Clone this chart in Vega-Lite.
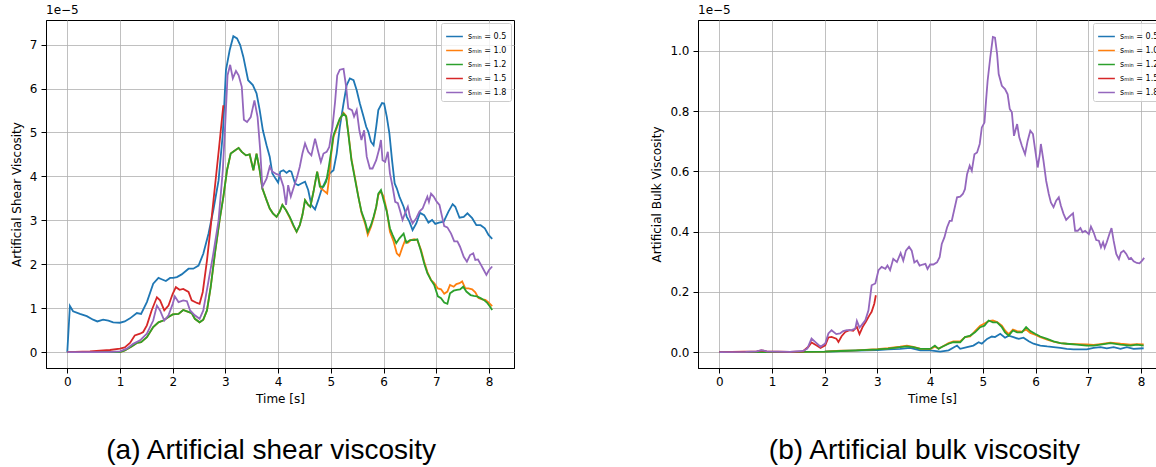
{
"$schema": "https://vega.github.io/schema/vega-lite/v6.json",
"padding": {"left": 9, "top": 3, "right": 0, "bottom": 0},
"config": {
 "font": "DejaVu Sans",
 "view": {"stroke": "black", "strokeWidth": 1},
 "axis": {"grid": true, "gridColor": "#b0b0b0", "gridWidth": 0.8, "domainColor": "black", "tickColor": "black", "tickSize": 5, "labelFontSize": 12, "titleFontSize": 12, "labelColor": "black", "titleColor": "black", "titleFontWeight": "normal", "labelFont": "DejaVu Sans", "titleFont": "DejaVu Sans"},
 "legend": {"orient": "top-right", "offset": 3, "fillColor": "rgba(255,255,255,0.8)", "strokeColor": "#cccccc", "cornerRadius": 2, "padding": 4, "labelFontSize": 8, "labelFont": "DejaVu Sans", "labelColor": "black", "symbolType": "stroke", "symbolSize": 280, "symbolStrokeWidth": 1.5, "rowPadding": -8, "labelOffset": 4}
},
"datasets": {
"shear": [
{"smin":"0.5","t":0,"v":0},{"smin":"0.5","t":0.05,"v":1.05},{"smin":"0.5","t":0.11,"v":0.93},{"smin":"0.5","t":0.24,"v":0.87},{"smin":"0.5","t":0.37,"v":0.82},{"smin":"0.5","t":0.49,"v":0.74},{"smin":"0.5","t":0.57,"v":0.70},{"smin":"0.5","t":0.68,"v":0.74},{"smin":"0.5","t":0.78,"v":0.72},{"smin":"0.5","t":0.87,"v":0.68},{"smin":"0.5","t":1.0,"v":0.67},{"smin":"0.5","t":1.09,"v":0.70},{"smin":"0.5","t":1.19,"v":0.77},{"smin":"0.5","t":1.32,"v":0.89},{"smin":"0.5","t":1.40,"v":0.87},{"smin":"0.5","t":1.51,"v":1.14},{"smin":"0.5","t":1.63,"v":1.56},{"smin":"0.5","t":1.73,"v":1.69},{"smin":"0.5","t":1.79,"v":1.66},{"smin":"0.5","t":1.87,"v":1.62},{"smin":"0.5","t":1.95,"v":1.69},{"smin":"0.5","t":2.01,"v":1.69},{"smin":"0.5","t":2.08,"v":1.71},{"smin":"0.5","t":2.17,"v":1.77},{"smin":"0.5","t":2.30,"v":1.90},{"smin":"0.5","t":2.39,"v":1.90},{"smin":"0.5","t":2.49,"v":1.97},{"smin":"0.5","t":2.58,"v":2.24},{"smin":"0.5","t":2.68,"v":2.70},{"smin":"0.5","t":2.77,"v":3.23},{"smin":"0.5","t":2.87,"v":3.91},{"smin":"0.5","t":2.95,"v":4.97},{"smin":"0.5","t":3.01,"v":6.42},{"smin":"0.5","t":3.08,"v":6.87},{"smin":"0.5","t":3.15,"v":7.19},{"smin":"0.5","t":3.22,"v":7.14},{"smin":"0.5","t":3.28,"v":6.99},{"smin":"0.5","t":3.34,"v":6.72},{"smin":"0.5","t":3.43,"v":6.19},{"smin":"0.5","t":3.52,"v":6.08},{"smin":"0.5","t":3.59,"v":5.89},{"smin":"0.5","t":3.65,"v":5.51},{"smin":"0.5","t":3.71,"v":5.05},{"smin":"0.5","t":3.78,"v":4.71},{"smin":"0.5","t":3.84,"v":4.45},{"smin":"0.5","t":3.89,"v":4.07},{"smin":"0.5","t":3.95,"v":3.95},{"smin":"0.5","t":4.0,"v":3.86},{"smin":"0.5","t":4.04,"v":4.11},{"smin":"0.5","t":4.10,"v":4.14},{"smin":"0.5","t":4.16,"v":4.08},{"smin":"0.5","t":4.21,"v":4.13},{"smin":"0.5","t":4.25,"v":4.11},{"smin":"0.5","t":4.32,"v":3.84},{"smin":"0.5","t":4.38,"v":3.80},{"smin":"0.5","t":4.44,"v":3.84},{"smin":"0.5","t":4.51,"v":3.88},{"smin":"0.5","t":4.57,"v":3.69},{"smin":"0.5","t":4.63,"v":3.35},{"smin":"0.5","t":4.70,"v":3.25},{"smin":"0.5","t":4.76,"v":3.46},{"smin":"0.5","t":4.82,"v":3.69},{"smin":"0.5","t":4.91,"v":3.92},{"smin":"0.5","t":4.98,"v":4.07},{"smin":"0.5","t":5.05,"v":4.14},{"smin":"0.5","t":5.11,"v":4.52},{"smin":"0.5","t":5.17,"v":5.13},{"smin":"0.5","t":5.24,"v":5.66},{"smin":"0.5","t":5.30,"v":6.08},{"smin":"0.5","t":5.36,"v":6.23},{"smin":"0.5","t":5.43,"v":6.19},{"smin":"0.5","t":5.49,"v":5.96},{"smin":"0.5","t":5.55,"v":5.66},{"smin":"0.5","t":5.62,"v":5.36},{"smin":"0.5","t":5.67,"v":5.13},{"smin":"0.5","t":5.71,"v":5.02},{"smin":"0.5","t":5.76,"v":4.79},{"smin":"0.5","t":5.81,"v":4.71},{"smin":"0.5","t":5.86,"v":5.13},{"smin":"0.5","t":5.90,"v":5.51},{"smin":"0.5","t":5.97,"v":5.67},{"smin":"0.5","t":6.01,"v":5.66},{"smin":"0.5","t":6.06,"v":5.36},{"smin":"0.5","t":6.11,"v":4.98},{"smin":"0.5","t":6.16,"v":4.37},{"smin":"0.5","t":6.21,"v":3.84},{"smin":"0.5","t":6.25,"v":3.73},{"smin":"0.5","t":6.30,"v":3.54},{"smin":"0.5","t":6.38,"v":3.31},{"smin":"0.5","t":6.44,"v":3.08},{"smin":"0.5","t":6.49,"v":2.97},{"smin":"0.5","t":6.55,"v":2.78},{"smin":"0.5","t":6.62,"v":2.93},{"smin":"0.5","t":6.69,"v":3.17},{"smin":"0.5","t":6.77,"v":3.12},{"smin":"0.5","t":6.85,"v":2.95},{"smin":"0.5","t":6.92,"v":3.01},{"smin":"0.5","t":6.98,"v":2.92},{"smin":"0.5","t":7.05,"v":2.95},{"smin":"0.5","t":7.14,"v":2.97},{"smin":"0.5","t":7.23,"v":3.20},{"smin":"0.5","t":7.31,"v":3.37},{"smin":"0.5","t":7.36,"v":3.31},{"smin":"0.5","t":7.44,"v":3.06},{"smin":"0.5","t":7.52,"v":3.08},{"smin":"0.5","t":7.59,"v":3.16},{"smin":"0.5","t":7.68,"v":3.05},{"smin":"0.5","t":7.76,"v":2.89},{"smin":"0.5","t":7.84,"v":2.89},{"smin":"0.5","t":7.92,"v":2.82},{"smin":"0.5","t":7.99,"v":2.67},{"smin":"0.5","t":8.06,"v":2.58},
{"smin":"1.0","t":0,"v":0},{"smin":"1.0","t":1.0,"v":0},{"smin":"1.0","t":1.09,"v":0.04},{"smin":"1.0","t":1.22,"v":0.13},{"smin":"1.0","t":1.32,"v":0.21},{"smin":"1.0","t":1.40,"v":0.23},{"smin":"1.0","t":1.51,"v":0.34},{"smin":"1.0","t":1.63,"v":0.57},{"smin":"1.0","t":1.73,"v":0.68},{"smin":"1.0","t":1.82,"v":0.72},{"smin":"1.0","t":1.92,"v":0.80},{"smin":"1.0","t":2.0,"v":0.86},{"smin":"1.0","t":2.11,"v":0.87},{"smin":"1.0","t":2.20,"v":0.96},{"smin":"1.0","t":2.27,"v":0.93},{"smin":"1.0","t":2.36,"v":0.89},{"smin":"1.0","t":2.42,"v":0.76},{"smin":"1.0","t":2.51,"v":0.68},{"smin":"1.0","t":2.58,"v":0.74},{"smin":"1.0","t":2.65,"v":0.95},{"smin":"1.0","t":2.72,"v":1.48},{"smin":"1.0","t":2.80,"v":2.24},{"smin":"1.0","t":2.89,"v":3.01},{"smin":"1.0","t":2.96,"v":3.53},{"smin":"1.0","t":3.03,"v":4.14},{"smin":"1.0","t":3.10,"v":4.52},{"smin":"1.0","t":3.18,"v":4.59},{"smin":"1.0","t":3.25,"v":4.65},{"smin":"1.0","t":3.31,"v":4.56},{"smin":"1.0","t":3.39,"v":4.48},{"smin":"1.0","t":3.46,"v":4.50},{"smin":"1.0","t":3.53,"v":4.14},{"smin":"1.0","t":3.59,"v":4.52},{"smin":"1.0","t":3.65,"v":4.14},{"smin":"1.0","t":3.70,"v":3.73},{"smin":"1.0","t":3.78,"v":3.46},{"smin":"1.0","t":3.84,"v":3.27},{"smin":"1.0","t":3.90,"v":3.16},{"smin":"1.0","t":3.97,"v":3.08},{"smin":"1.0","t":4.03,"v":3.20},{"smin":"1.0","t":4.08,"v":3.35},{"smin":"1.0","t":4.15,"v":3.23},{"smin":"1.0","t":4.22,"v":3.06},{"smin":"1.0","t":4.29,"v":2.87},{"smin":"1.0","t":4.35,"v":2.74},{"smin":"1.0","t":4.41,"v":2.89},{"smin":"1.0","t":4.46,"v":3.12},{"smin":"1.0","t":4.51,"v":3.46},{"smin":"1.0","t":4.57,"v":3.35},{"smin":"1.0","t":4.61,"v":3.31},{"smin":"1.0","t":4.67,"v":3.65},{"smin":"1.0","t":4.74,"v":4.11},{"smin":"1.0","t":4.81,"v":3.73},{"smin":"1.0","t":4.87,"v":3.67},{"smin":"1.0","t":4.93,"v":3.61},{"smin":"1.0","t":4.97,"v":4.0},{"smin":"1.0","t":5.0,"v":4.45},{"smin":"1.0","t":5.05,"v":4.90},{"smin":"1.0","t":5.11,"v":5.10},{"smin":"1.0","t":5.17,"v":5.30},{"smin":"1.0","t":5.24,"v":5.45},{"smin":"1.0","t":5.29,"v":5.38},{"smin":"1.0","t":5.33,"v":5.0},{"smin":"1.0","t":5.39,"v":4.40},{"smin":"1.0","t":5.46,"v":3.95},{"smin":"1.0","t":5.52,"v":3.55},{"smin":"1.0","t":5.58,"v":3.18},{"smin":"1.0","t":5.65,"v":2.92},{"smin":"1.0","t":5.70,"v":2.67},{"smin":"1.0","t":5.76,"v":2.85},{"smin":"1.0","t":5.81,"v":3.05},{"smin":"1.0","t":5.86,"v":3.30},{"smin":"1.0","t":5.90,"v":3.58},{"smin":"1.0","t":5.95,"v":3.66},{"smin":"1.0","t":6.0,"v":3.54},{"smin":"1.0","t":6.06,"v":3.23},{"smin":"1.0","t":6.12,"v":2.74},{"smin":"1.0","t":6.19,"v":2.52},{"smin":"1.0","t":6.25,"v":2.25},{"smin":"1.0","t":6.30,"v":2.19},{"smin":"1.0","t":6.36,"v":2.40},{"smin":"1.0","t":6.41,"v":2.55},{"smin":"1.0","t":6.46,"v":2.49},{"smin":"1.0","t":6.52,"v":2.55},{"smin":"1.0","t":6.58,"v":2.57},{"smin":"1.0","t":6.64,"v":2.55},{"smin":"1.0","t":6.71,"v":2.33},{"smin":"1.0","t":6.77,"v":2.06},{"smin":"1.0","t":6.83,"v":1.83},{"smin":"1.0","t":6.90,"v":1.64},{"smin":"1.0","t":6.96,"v":1.57},{"smin":"1.0","t":7.03,"v":1.45},{"smin":"1.0","t":7.09,"v":1.43},{"smin":"1.0","t":7.15,"v":1.33},{"smin":"1.0","t":7.21,"v":1.38},{"smin":"1.0","t":7.26,"v":1.53},{"smin":"1.0","t":7.33,"v":1.49},{"smin":"1.0","t":7.38,"v":1.55},{"smin":"1.0","t":7.44,"v":1.57},{"smin":"1.0","t":7.49,"v":1.61},{"smin":"1.0","t":7.55,"v":1.45},{"smin":"1.0","t":7.61,"v":1.45},{"smin":"1.0","t":7.68,"v":1.43},{"smin":"1.0","t":7.74,"v":1.36},{"smin":"1.0","t":7.80,"v":1.23},{"smin":"1.0","t":7.87,"v":1.20},{"smin":"1.0","t":7.93,"v":1.19},{"smin":"1.0","t":7.99,"v":1.13},{"smin":"1.0","t":8.06,"v":1.05},
{"smin":"1.2","t":0,"v":0},{"smin":"1.2","t":1.0,"v":0},{"smin":"1.2","t":1.09,"v":0.04},{"smin":"1.2","t":1.22,"v":0.13},{"smin":"1.2","t":1.32,"v":0.21},{"smin":"1.2","t":1.40,"v":0.23},{"smin":"1.2","t":1.51,"v":0.34},{"smin":"1.2","t":1.63,"v":0.57},{"smin":"1.2","t":1.73,"v":0.68},{"smin":"1.2","t":1.82,"v":0.72},{"smin":"1.2","t":1.92,"v":0.80},{"smin":"1.2","t":2.0,"v":0.86},{"smin":"1.2","t":2.11,"v":0.87},{"smin":"1.2","t":2.20,"v":0.96},{"smin":"1.2","t":2.27,"v":0.93},{"smin":"1.2","t":2.36,"v":0.89},{"smin":"1.2","t":2.42,"v":0.76},{"smin":"1.2","t":2.51,"v":0.68},{"smin":"1.2","t":2.58,"v":0.74},{"smin":"1.2","t":2.65,"v":0.95},{"smin":"1.2","t":2.72,"v":1.48},{"smin":"1.2","t":2.80,"v":2.24},{"smin":"1.2","t":2.89,"v":3.01},{"smin":"1.2","t":2.96,"v":3.53},{"smin":"1.2","t":3.03,"v":4.14},{"smin":"1.2","t":3.10,"v":4.52},{"smin":"1.2","t":3.18,"v":4.59},{"smin":"1.2","t":3.25,"v":4.65},{"smin":"1.2","t":3.31,"v":4.56},{"smin":"1.2","t":3.39,"v":4.48},{"smin":"1.2","t":3.46,"v":4.50},{"smin":"1.2","t":3.53,"v":4.14},{"smin":"1.2","t":3.59,"v":4.52},{"smin":"1.2","t":3.65,"v":4.14},{"smin":"1.2","t":3.70,"v":3.73},{"smin":"1.2","t":3.78,"v":3.46},{"smin":"1.2","t":3.84,"v":3.27},{"smin":"1.2","t":3.90,"v":3.16},{"smin":"1.2","t":3.97,"v":3.08},{"smin":"1.2","t":4.03,"v":3.20},{"smin":"1.2","t":4.08,"v":3.35},{"smin":"1.2","t":4.15,"v":3.23},{"smin":"1.2","t":4.22,"v":3.08},{"smin":"1.2","t":4.29,"v":2.89},{"smin":"1.2","t":4.35,"v":2.74},{"smin":"1.2","t":4.41,"v":2.89},{"smin":"1.2","t":4.46,"v":3.12},{"smin":"1.2","t":4.51,"v":3.46},{"smin":"1.2","t":4.57,"v":3.35},{"smin":"1.2","t":4.61,"v":3.31},{"smin":"1.2","t":4.67,"v":3.65},{"smin":"1.2","t":4.74,"v":4.11},{"smin":"1.2","t":4.79,"v":3.77},{"smin":"1.2","t":4.86,"v":3.77},{"smin":"1.2","t":4.91,"v":3.88},{"smin":"1.2","t":4.95,"v":4.14},{"smin":"1.2","t":5.0,"v":4.52},{"smin":"1.2","t":5.05,"v":4.94},{"smin":"1.2","t":5.11,"v":5.13},{"smin":"1.2","t":5.17,"v":5.32},{"smin":"1.2","t":5.24,"v":5.43},{"smin":"1.2","t":5.29,"v":5.36},{"smin":"1.2","t":5.33,"v":4.98},{"smin":"1.2","t":5.39,"v":4.37},{"smin":"1.2","t":5.46,"v":3.92},{"smin":"1.2","t":5.52,"v":3.54},{"smin":"1.2","t":5.58,"v":3.20},{"smin":"1.2","t":5.65,"v":2.97},{"smin":"1.2","t":5.70,"v":2.74},{"smin":"1.2","t":5.76,"v":2.89},{"smin":"1.2","t":5.81,"v":3.08},{"smin":"1.2","t":5.86,"v":3.31},{"smin":"1.2","t":5.90,"v":3.61},{"smin":"1.2","t":5.95,"v":3.69},{"smin":"1.2","t":6.0,"v":3.46},{"smin":"1.2","t":6.06,"v":3.20},{"smin":"1.2","t":6.12,"v":2.82},{"smin":"1.2","t":6.17,"v":2.67},{"smin":"1.2","t":6.24,"v":2.48},{"smin":"1.2","t":6.30,"v":2.59},{"smin":"1.2","t":6.38,"v":2.70},{"smin":"1.2","t":6.43,"v":2.49},{"smin":"1.2","t":6.50,"v":2.55},{"smin":"1.2","t":6.58,"v":2.55},{"smin":"1.2","t":6.64,"v":2.57},{"smin":"1.2","t":6.71,"v":2.29},{"smin":"1.2","t":6.77,"v":2.02},{"smin":"1.2","t":6.83,"v":1.80},{"smin":"1.2","t":6.90,"v":1.64},{"smin":"1.2","t":6.96,"v":1.53},{"smin":"1.2","t":7.03,"v":1.27},{"smin":"1.2","t":7.09,"v":1.23},{"smin":"1.2","t":7.15,"v":1.13},{"smin":"1.2","t":7.21,"v":1.10},{"smin":"1.2","t":7.26,"v":1.34},{"smin":"1.2","t":7.33,"v":1.40},{"smin":"1.2","t":7.39,"v":1.42},{"smin":"1.2","t":7.45,"v":1.43},{"smin":"1.2","t":7.51,"v":1.49},{"smin":"1.2","t":7.57,"v":1.38},{"smin":"1.2","t":7.65,"v":1.30},{"smin":"1.2","t":7.71,"v":1.28},{"smin":"1.2","t":7.77,"v":1.27},{"smin":"1.2","t":7.84,"v":1.23},{"smin":"1.2","t":7.90,"v":1.19},{"smin":"1.2","t":7.96,"v":1.13},{"smin":"1.2","t":8.01,"v":1.05},{"smin":"1.2","t":8.06,"v":0.96},
{"smin":"1.5","t":0,"v":0},{"smin":"1.5","t":0.43,"v":0.02},{"smin":"1.5","t":0.68,"v":0.04},{"smin":"1.5","t":0.81,"v":0.05},{"smin":"1.5","t":1.0,"v":0.08},{"smin":"1.5","t":1.09,"v":0.11},{"smin":"1.5","t":1.19,"v":0.21},{"smin":"1.5","t":1.28,"v":0.38},{"smin":"1.5","t":1.38,"v":0.42},{"smin":"1.5","t":1.44,"v":0.46},{"smin":"1.5","t":1.51,"v":0.61},{"smin":"1.5","t":1.60,"v":0.95},{"smin":"1.5","t":1.70,"v":1.25},{"smin":"1.5","t":1.76,"v":1.18},{"smin":"1.5","t":1.84,"v":0.95},{"smin":"1.5","t":1.92,"v":1.06},{"smin":"1.5","t":2.0,"v":1.33},{"smin":"1.5","t":2.06,"v":1.48},{"smin":"1.5","t":2.13,"v":1.42},{"smin":"1.5","t":2.20,"v":1.44},{"smin":"1.5","t":2.30,"v":1.37},{"smin":"1.5","t":2.36,"v":1.18},{"smin":"1.5","t":2.46,"v":1.12},{"smin":"1.5","t":2.51,"v":1.10},{"smin":"1.5","t":2.57,"v":1.37},{"smin":"1.5","t":2.65,"v":2.09},{"smin":"1.5","t":2.72,"v":2.85},{"smin":"1.5","t":2.80,"v":3.76},{"smin":"1.5","t":2.88,"v":4.67},{"smin":"1.5","t":2.96,"v":5.62},
{"smin":"1.8","t":0,"v":0},{"smin":"1.8","t":0.75,"v":0},{"smin":"1.8","t":1.0,"v":0.02},{"smin":"1.8","t":1.13,"v":0.08},{"smin":"1.8","t":1.25,"v":0.19},{"smin":"1.8","t":1.38,"v":0.27},{"smin":"1.8","t":1.51,"v":0.42},{"smin":"1.8","t":1.63,"v":0.72},{"smin":"1.8","t":1.70,"v":1.06},{"smin":"1.8","t":1.76,"v":0.95},{"smin":"1.8","t":1.84,"v":0.72},{"smin":"1.8","t":1.92,"v":0.84},{"smin":"1.8","t":2.0,"v":1.10},{"smin":"1.8","t":2.04,"v":1.27},{"smin":"1.8","t":2.11,"v":1.14},{"smin":"1.8","t":2.20,"v":1.18},{"smin":"1.8","t":2.27,"v":1.16},{"smin":"1.8","t":2.33,"v":0.95},{"smin":"1.8","t":2.42,"v":0.84},{"smin":"1.8","t":2.51,"v":0.76},{"smin":"1.8","t":2.58,"v":0.95},{"smin":"1.8","t":2.68,"v":1.63},{"smin":"1.8","t":2.77,"v":2.24},{"smin":"1.8","t":2.87,"v":3.0},{"smin":"1.8","t":2.95,"v":4.14},{"smin":"1.8","t":3.0,"v":5.29},{"smin":"1.8","t":3.04,"v":6.30},{"smin":"1.8","t":3.09,"v":6.54},{"smin":"1.8","t":3.14,"v":6.23},{"smin":"1.8","t":3.20,"v":6.40},{"smin":"1.8","t":3.25,"v":6.30},{"smin":"1.8","t":3.31,"v":6.04},{"smin":"1.8","t":3.35,"v":5.29},{"smin":"1.8","t":3.41,"v":5.24},{"smin":"1.8","t":3.48,"v":5.35},{"smin":"1.8","t":3.55,"v":5.73},{"smin":"1.8","t":3.61,"v":5.35},{"smin":"1.8","t":3.66,"v":4.59},{"smin":"1.8","t":3.70,"v":3.76},{"smin":"1.8","t":3.78,"v":3.95},{"smin":"1.8","t":3.84,"v":4.22},{"smin":"1.8","t":3.89,"v":4.11},{"smin":"1.8","t":3.97,"v":4.05},{"smin":"1.8","t":4.03,"v":4.03},{"smin":"1.8","t":4.10,"v":3.77},{"smin":"1.8","t":4.15,"v":3.35},{"smin":"1.8","t":4.19,"v":3.80},{"smin":"1.8","t":4.24,"v":3.54},{"smin":"1.8","t":4.30,"v":3.77},{"smin":"1.8","t":4.36,"v":3.99},{"smin":"1.8","t":4.41,"v":4.22},{"smin":"1.8","t":4.46,"v":4.52},{"smin":"1.8","t":4.51,"v":4.75},{"smin":"1.8","t":4.57,"v":4.56},{"smin":"1.8","t":4.63,"v":4.48},{"smin":"1.8","t":4.70,"v":4.86},{"smin":"1.8","t":4.76,"v":4.56},{"smin":"1.8","t":4.81,"v":4.33},{"smin":"1.8","t":4.86,"v":4.52},{"smin":"1.8","t":4.92,"v":4.56},{"smin":"1.8","t":4.97,"v":4.67},{"smin":"1.8","t":5.03,"v":5.13},{"smin":"1.8","t":5.08,"v":5.70},{"smin":"1.8","t":5.12,"v":6.30},{"smin":"1.8","t":5.17,"v":6.43},{"smin":"1.8","t":5.24,"v":6.45},{"smin":"1.8","t":5.29,"v":6.04},{"smin":"1.8","t":5.33,"v":5.55},{"smin":"1.8","t":5.40,"v":5.51},{"smin":"1.8","t":5.44,"v":5.36},{"smin":"1.8","t":5.49,"v":5.51},{"smin":"1.8","t":5.54,"v":5.05},{"smin":"1.8","t":5.58,"v":4.83},{"smin":"1.8","t":5.63,"v":5.05},{"smin":"1.8","t":5.68,"v":4.45},{"smin":"1.8","t":5.74,"v":4.18},{"smin":"1.8","t":5.79,"v":4.18},{"smin":"1.8","t":5.86,"v":4.37},{"smin":"1.8","t":5.92,"v":4.64},{"smin":"1.8","t":5.95,"v":4.83},{"smin":"1.8","t":5.98,"v":4.37},{"smin":"1.8","t":6.03,"v":4.33},{"smin":"1.8","t":6.08,"v":4.56},{"smin":"1.8","t":6.12,"v":4.07},{"smin":"1.8","t":6.17,"v":3.77},{"smin":"1.8","t":6.22,"v":3.42},{"smin":"1.8","t":6.27,"v":3.39},{"smin":"1.8","t":6.31,"v":3.23},{"smin":"1.8","t":6.36,"v":3.01},{"smin":"1.8","t":6.41,"v":3.17},{"smin":"1.8","t":6.46,"v":3.31},{"smin":"1.8","t":6.50,"v":3.08},{"smin":"1.8","t":6.55,"v":2.93},{"smin":"1.8","t":6.62,"v":3.05},{"smin":"1.8","t":6.68,"v":3.20},{"smin":"1.8","t":6.74,"v":3.27},{"smin":"1.8","t":6.79,"v":3.42},{"smin":"1.8","t":6.83,"v":3.54},{"smin":"1.8","t":6.86,"v":3.42},{"smin":"1.8","t":6.90,"v":3.61},{"smin":"1.8","t":6.95,"v":3.54},{"smin":"1.8","t":7.01,"v":3.42},{"smin":"1.8","t":7.06,"v":3.35},{"smin":"1.8","t":7.11,"v":3.08},{"smin":"1.8","t":7.15,"v":2.87},{"smin":"1.8","t":7.21,"v":2.84},{"smin":"1.8","t":7.28,"v":2.70},{"smin":"1.8","t":7.34,"v":2.52},{"smin":"1.8","t":7.40,"v":2.52},{"smin":"1.8","t":7.45,"v":2.40},{"smin":"1.8","t":7.52,"v":2.17},{"smin":"1.8","t":7.58,"v":2.06},{"smin":"1.8","t":7.64,"v":2.21},{"smin":"1.8","t":7.70,"v":2.25},{"smin":"1.8","t":7.74,"v":2.10},{"smin":"1.8","t":7.79,"v":2.11},{"smin":"1.8","t":7.85,"v":1.98},{"smin":"1.8","t":7.90,"v":1.87},{"smin":"1.8","t":7.95,"v":1.76},{"smin":"1.8","t":8.0,"v":1.87},{"smin":"1.8","t":8.06,"v":1.95}
],
"bulk": [
{"smin":"0.5","t":0,"v":0},{"smin":"0.5","t":1.0,"v":0.0},{"smin":"0.5","t":1.5,"v":0.001},{"smin":"0.5","t":2.0,"v":0.002},{"smin":"0.5","t":2.3,"v":0.004},{"smin":"0.5","t":2.6,"v":0.005},{"smin":"0.5","t":3.0,"v":0.007},{"smin":"0.5","t":3.2,"v":0.009},{"smin":"0.5","t":3.43,"v":0.011},{"smin":"0.5","t":3.62,"v":0.014},{"smin":"0.5","t":3.81,"v":0.006},{"smin":"0.5","t":4.0,"v":0.006},{"smin":"0.5","t":4.19,"v":0.002},{"smin":"0.5","t":4.35,"v":0.006},{"smin":"0.5","t":4.51,"v":0.022},{"smin":"0.5","t":4.57,"v":0.011},{"smin":"0.5","t":4.70,"v":0.017},{"smin":"0.5","t":4.82,"v":0.022},{"smin":"0.5","t":4.92,"v":0.033},{"smin":"0.5","t":4.98,"v":0.028},{"smin":"0.5","t":5.08,"v":0.044},{"smin":"0.5","t":5.17,"v":0.052},{"smin":"0.5","t":5.23,"v":0.050},{"smin":"0.5","t":5.33,"v":0.061},{"smin":"0.5","t":5.42,"v":0.048},{"smin":"0.5","t":5.49,"v":0.055},{"smin":"0.5","t":5.58,"v":0.050},{"smin":"0.5","t":5.68,"v":0.044},{"smin":"0.5","t":5.77,"v":0.048},{"smin":"0.5","t":5.87,"v":0.036},{"smin":"0.5","t":5.96,"v":0.028},{"smin":"0.5","t":6.09,"v":0.022},{"smin":"0.5","t":6.22,"v":0.019},{"smin":"0.5","t":6.34,"v":0.017},{"smin":"0.5","t":6.47,"v":0.014},{"smin":"0.5","t":6.59,"v":0.011},{"smin":"0.5","t":6.72,"v":0.009},{"smin":"0.5","t":6.97,"v":0.009},{"smin":"0.5","t":7.10,"v":0.014},{"smin":"0.5","t":7.23,"v":0.017},{"smin":"0.5","t":7.35,"v":0.013},{"smin":"0.5","t":7.48,"v":0.017},{"smin":"0.5","t":7.61,"v":0.011},{"smin":"0.5","t":7.73,"v":0.017},{"smin":"0.5","t":7.86,"v":0.011},{"smin":"0.5","t":8.05,"v":0.013},
{"smin":"1.0","t":0,"v":0},{"smin":"1.0","t":1.0,"v":0.0},{"smin":"1.0","t":1.5,"v":0.001},{"smin":"1.0","t":2.0,"v":0.002},{"smin":"1.0","t":2.3,"v":0.005},{"smin":"1.0","t":2.6,"v":0.006},{"smin":"1.0","t":3.0,"v":0.010},{"smin":"1.0","t":3.2,"v":0.013},{"smin":"1.0","t":3.43,"v":0.018},{"smin":"1.0","t":3.56,"v":0.022},{"smin":"1.0","t":3.68,"v":0.018},{"smin":"1.0","t":3.81,"v":0.012},{"smin":"1.0","t":4.0,"v":0.010},{"smin":"1.0","t":4.09,"v":0.018},{"smin":"1.0","t":4.16,"v":0.012},{"smin":"1.0","t":4.22,"v":0.017},{"smin":"1.0","t":4.35,"v":0.030},{"smin":"1.0","t":4.44,"v":0.036},{"smin":"1.0","t":4.57,"v":0.036},{"smin":"1.0","t":4.66,"v":0.050},{"smin":"1.0","t":4.76,"v":0.052},{"smin":"1.0","t":4.85,"v":0.070},{"smin":"1.0","t":4.95,"v":0.088},{"smin":"1.0","t":5.03,"v":0.095},{"smin":"1.0","t":5.11,"v":0.103},{"smin":"1.0","t":5.19,"v":0.105},{"smin":"1.0","t":5.27,"v":0.100},{"smin":"1.0","t":5.36,"v":0.088},{"smin":"1.0","t":5.42,"v":0.072},{"smin":"1.0","t":5.49,"v":0.060},{"smin":"1.0","t":5.57,"v":0.075},{"smin":"1.0","t":5.65,"v":0.070},{"smin":"1.0","t":5.74,"v":0.068},{"smin":"1.0","t":5.82,"v":0.075},{"smin":"1.0","t":5.90,"v":0.064},{"smin":"1.0","t":5.99,"v":0.058},{"smin":"1.0","t":6.09,"v":0.050},{"smin":"1.0","t":6.22,"v":0.042},{"smin":"1.0","t":6.34,"v":0.035},{"smin":"1.0","t":6.47,"v":0.030},{"smin":"1.0","t":6.59,"v":0.028},{"smin":"1.0","t":6.78,"v":0.027},{"smin":"1.0","t":6.97,"v":0.026},{"smin":"1.0","t":7.10,"v":0.024},{"smin":"1.0","t":7.23,"v":0.027},{"smin":"1.0","t":7.42,"v":0.032},{"smin":"1.0","t":7.61,"v":0.028},{"smin":"1.0","t":7.80,"v":0.025},{"smin":"1.0","t":7.92,"v":0.027},{"smin":"1.0","t":8.05,"v":0.026},
{"smin":"1.2","t":0,"v":0},{"smin":"1.2","t":1.0,"v":0.0},{"smin":"1.2","t":1.5,"v":0.001},{"smin":"1.2","t":2.0,"v":0.002},{"smin":"1.2","t":2.3,"v":0.004},{"smin":"1.2","t":2.6,"v":0.006},{"smin":"1.2","t":3.0,"v":0.009},{"smin":"1.2","t":3.2,"v":0.012},{"smin":"1.2","t":3.43,"v":0.017},{"smin":"1.2","t":3.56,"v":0.019},{"smin":"1.2","t":3.68,"v":0.017},{"smin":"1.2","t":3.81,"v":0.011},{"smin":"1.2","t":4.0,"v":0.011},{"smin":"1.2","t":4.09,"v":0.022},{"smin":"1.2","t":4.16,"v":0.011},{"smin":"1.2","t":4.22,"v":0.017},{"smin":"1.2","t":4.35,"v":0.028},{"smin":"1.2","t":4.44,"v":0.033},{"smin":"1.2","t":4.57,"v":0.033},{"smin":"1.2","t":4.66,"v":0.050},{"smin":"1.2","t":4.76,"v":0.055},{"smin":"1.2","t":4.85,"v":0.066},{"smin":"1.2","t":4.95,"v":0.083},{"smin":"1.2","t":5.03,"v":0.088},{"smin":"1.2","t":5.11,"v":0.105},{"smin":"1.2","t":5.19,"v":0.099},{"smin":"1.2","t":5.27,"v":0.099},{"smin":"1.2","t":5.36,"v":0.083},{"smin":"1.2","t":5.42,"v":0.066},{"smin":"1.2","t":5.49,"v":0.055},{"smin":"1.2","t":5.57,"v":0.072},{"smin":"1.2","t":5.65,"v":0.066},{"smin":"1.2","t":5.74,"v":0.066},{"smin":"1.2","t":5.82,"v":0.083},{"smin":"1.2","t":5.90,"v":0.070},{"smin":"1.2","t":5.99,"v":0.061},{"smin":"1.2","t":6.09,"v":0.052},{"smin":"1.2","t":6.22,"v":0.044},{"smin":"1.2","t":6.34,"v":0.036},{"smin":"1.2","t":6.47,"v":0.030},{"smin":"1.2","t":6.59,"v":0.028},{"smin":"1.2","t":6.78,"v":0.025},{"smin":"1.2","t":6.97,"v":0.022},{"smin":"1.2","t":7.10,"v":0.022},{"smin":"1.2","t":7.23,"v":0.025},{"smin":"1.2","t":7.42,"v":0.030},{"smin":"1.2","t":7.61,"v":0.025},{"smin":"1.2","t":7.80,"v":0.022},{"smin":"1.2","t":7.92,"v":0.025},{"smin":"1.2","t":8.05,"v":0.022},
{"smin":"1.5","t":0,"v":0},{"smin":"1.5","t":0.71,"v":0.003},{"smin":"1.5","t":0.80,"v":0.006},{"smin":"1.5","t":0.9,"v":0.003},{"smin":"1.5","t":1.34,"v":0.001},{"smin":"1.5","t":1.59,"v":0.003},{"smin":"1.5","t":1.69,"v":0.018},{"smin":"1.5","t":1.75,"v":0.032},{"smin":"1.5","t":1.84,"v":0.023},{"smin":"1.5","t":1.92,"v":0.014},{"smin":"1.5","t":2.01,"v":0.023},{"smin":"1.5","t":2.07,"v":0.049},{"smin":"1.5","t":2.13,"v":0.051},{"smin":"1.5","t":2.22,"v":0.045},{"smin":"1.5","t":2.26,"v":0.034},{"smin":"1.5","t":2.32,"v":0.053},{"smin":"1.5","t":2.39,"v":0.067},{"smin":"1.5","t":2.47,"v":0.073},{"smin":"1.5","t":2.54,"v":0.071},{"smin":"1.5","t":2.61,"v":0.084},{"smin":"1.5","t":2.66,"v":0.060},{"smin":"1.5","t":2.72,"v":0.084},{"smin":"1.5","t":2.78,"v":0.101},{"smin":"1.5","t":2.85,"v":0.123},{"smin":"1.5","t":2.89,"v":0.134},{"smin":"1.5","t":2.94,"v":0.161},{"smin":"1.5","t":2.97,"v":0.189},
{"smin":"1.8","t":0,"v":0},{"smin":"1.8","t":0.5,"v":0.001},{"smin":"1.8","t":0.71,"v":0.003},{"smin":"1.8","t":0.80,"v":0.007},{"smin":"1.8","t":0.9,"v":0.003},{"smin":"1.8","t":1.1,"v":0.002},{"smin":"1.8","t":1.34,"v":0.001},{"smin":"1.8","t":1.59,"v":0.004},{"smin":"1.8","t":1.67,"v":0.012},{"smin":"1.8","t":1.75,"v":0.045},{"smin":"1.8","t":1.84,"v":0.031},{"smin":"1.8","t":1.92,"v":0.018},{"smin":"1.8","t":2.01,"v":0.029},{"smin":"1.8","t":2.07,"v":0.062},{"smin":"1.8","t":2.13,"v":0.073},{"smin":"1.8","t":2.22,"v":0.060},{"smin":"1.8","t":2.29,"v":0.062},{"smin":"1.8","t":2.35,"v":0.070},{"smin":"1.8","t":2.42,"v":0.073},{"smin":"1.8","t":2.51,"v":0.073},{"smin":"1.8","t":2.58,"v":0.078},{"smin":"1.8","t":2.61,"v":0.104},{"smin":"1.8","t":2.66,"v":0.082},{"smin":"1.8","t":2.70,"v":0.090},{"smin":"1.8","t":2.77,"v":0.106},{"smin":"1.8","t":2.83,"v":0.139},{"smin":"1.8","t":2.89,"v":0.222},{"smin":"1.8","t":2.96,"v":0.228},{"smin":"1.8","t":3.02,"v":0.272},{"smin":"1.8","t":3.08,"v":0.283},{"smin":"1.8","t":3.15,"v":0.277},{"smin":"1.8","t":3.19,"v":0.288},{"smin":"1.8","t":3.24,"v":0.272},{"smin":"1.8","t":3.30,"v":0.310},{"smin":"1.8","t":3.37,"v":0.299},{"smin":"1.8","t":3.44,"v":0.329},{"smin":"1.8","t":3.49,"v":0.304},{"smin":"1.8","t":3.54,"v":0.337},{"smin":"1.8","t":3.60,"v":0.350},{"smin":"1.8","t":3.65,"v":0.337},{"smin":"1.8","t":3.70,"v":0.298},{"smin":"1.8","t":3.75,"v":0.304},{"smin":"1.8","t":3.80,"v":0.287},{"smin":"1.8","t":3.86,"v":0.291},{"smin":"1.8","t":3.91,"v":0.293},{"smin":"1.8","t":3.95,"v":0.276},{"smin":"1.8","t":4.0,"v":0.291},{"smin":"1.8","t":4.06,"v":0.291},{"smin":"1.8","t":4.13,"v":0.298},{"smin":"1.8","t":4.18,"v":0.315},{"smin":"1.8","t":4.22,"v":0.359},{"smin":"1.8","t":4.27,"v":0.381},{"smin":"1.8","t":4.32,"v":0.414},{"smin":"1.8","t":4.37,"v":0.436},{"smin":"1.8","t":4.41,"v":0.436},{"smin":"1.8","t":4.46,"v":0.475},{"smin":"1.8","t":4.51,"v":0.514},{"smin":"1.8","t":4.57,"v":0.516},{"smin":"1.8","t":4.62,"v":0.525},{"smin":"1.8","t":4.66,"v":0.541},{"smin":"1.8","t":4.70,"v":0.591},{"smin":"1.8","t":4.75,"v":0.619},{"smin":"1.8","t":4.79,"v":0.602},{"smin":"1.8","t":4.84,"v":0.657},{"smin":"1.8","t":4.89,"v":0.663},{"smin":"1.8","t":4.94,"v":0.691},{"smin":"1.8","t":4.98,"v":0.746},{"smin":"1.8","t":5.03,"v":0.762},{"smin":"1.8","t":5.06,"v":0.834},{"smin":"1.8","t":5.09,"v":0.901},{"smin":"1.8","t":5.14,"v":0.978},{"smin":"1.8","t":5.19,"v":1.046},{"smin":"1.8","t":5.23,"v":1.044},{"smin":"1.8","t":5.27,"v":0.989},{"smin":"1.8","t":5.30,"v":0.923},{"smin":"1.8","t":5.36,"v":0.884},{"smin":"1.8","t":5.42,"v":0.873},{"smin":"1.8","t":5.47,"v":0.856},{"smin":"1.8","t":5.51,"v":0.807},{"smin":"1.8","t":5.55,"v":0.796},{"smin":"1.8","t":5.59,"v":0.718},{"smin":"1.8","t":5.65,"v":0.757},{"smin":"1.8","t":5.69,"v":0.713},{"smin":"1.8","t":5.74,"v":0.685},{"smin":"1.8","t":5.80,"v":0.657},{"smin":"1.8","t":5.85,"v":0.702},{"smin":"1.8","t":5.90,"v":0.735},{"smin":"1.8","t":5.95,"v":0.724},{"smin":"1.8","t":5.99,"v":0.674},{"smin":"1.8","t":6.04,"v":0.613},{"smin":"1.8","t":6.08,"v":0.657},{"smin":"1.8","t":6.10,"v":0.691},{"smin":"1.8","t":6.15,"v":0.635},{"smin":"1.8","t":6.20,"v":0.569},{"smin":"1.8","t":6.25,"v":0.525},{"smin":"1.8","t":6.29,"v":0.497},{"smin":"1.8","t":6.34,"v":0.481},{"smin":"1.8","t":6.39,"v":0.503},{"smin":"1.8","t":6.44,"v":0.514},{"smin":"1.8","t":6.48,"v":0.486},{"smin":"1.8","t":6.53,"v":0.459},{"smin":"1.8","t":6.58,"v":0.439},{"smin":"1.8","t":6.63,"v":0.448},{"smin":"1.8","t":6.67,"v":0.455},{"smin":"1.8","t":6.71,"v":0.461},{"smin":"1.8","t":6.75,"v":0.403},{"smin":"1.8","t":6.80,"v":0.403},{"smin":"1.8","t":6.85,"v":0.412},{"smin":"1.8","t":6.89,"v":0.398},{"smin":"1.8","t":6.94,"v":0.403},{"smin":"1.8","t":7.01,"v":0.392},{"smin":"1.8","t":7.05,"v":0.417},{"smin":"1.8","t":7.10,"v":0.398},{"smin":"1.8","t":7.15,"v":0.372},{"smin":"1.8","t":7.20,"v":0.370},{"smin":"1.8","t":7.24,"v":0.348},{"smin":"1.8","t":7.28,"v":0.365},{"smin":"1.8","t":7.31,"v":0.346},{"smin":"1.8","t":7.35,"v":0.365},{"smin":"1.8","t":7.40,"v":0.392},{"smin":"1.8","t":7.44,"v":0.412},{"smin":"1.8","t":7.48,"v":0.370},{"smin":"1.8","t":7.53,"v":0.326},{"smin":"1.8","t":7.58,"v":0.309},{"smin":"1.8","t":7.62,"v":0.331},{"smin":"1.8","t":7.67,"v":0.337},{"smin":"1.8","t":7.72,"v":0.326},{"smin":"1.8","t":7.77,"v":0.309},{"smin":"1.8","t":7.81,"v":0.313},{"smin":"1.8","t":7.86,"v":0.302},{"smin":"1.8","t":7.92,"v":0.296},{"smin":"1.8","t":7.97,"v":0.295},{"smin":"1.8","t":8.02,"v":0.304},{"smin":"1.8","t":8.06,"v":0.313}
]
},
"resolve": {"legend": {"color": "independent"}},
"spacing": 135,
"hconcat": [
 {
  "title": {"text": "(a) Artificial shear viscosity", "orient": "bottom", "anchor": "middle", "font": "Liberation Sans", "fontSize": 28, "fontWeight": "normal", "color": "black", "offset": 32, "dx": 9},
  "resolve": {"legend": {"color": "independent"}},
  "vconcat": [
   {
    "title": {"text": "1e−5", "anchor": "start", "frame": "group", "font": "DejaVu Sans", "fontSize": 12, "fontWeight": "normal", "color": "black", "offset": 3},
    "width": 468, "height": 348,
    "data": {"name": "shear"},
    "mark": {"type": "line", "strokeWidth": 1.8, "clip": true},
    "encoding": {
     "x": {"field": "t", "type": "quantitative", "scale": {"domain": [-0.4035, 8.4735], "nice": false, "zero": false}, "axis": {"values": [0,1,2,3,4,5,6,7,8], "format": "d", "title": "Time [s]", "labelPadding": 3, "titlePadding": 6}},
     "y": {"field": "v", "type": "quantitative", "scale": {"domain": [-0.36, 7.56], "nice": false, "zero": false}, "axis": {"values": [0,1,2,3,4,5,6,7], "format": "d", "title": "Artificial Shear Viscosity", "labelPadding": 4, "titlePadding": 6}},
     "color": {"field": "smin", "type": "nominal", "scale": {"domain": ["0.5","1.0","1.2","1.5","1.8"], "range": ["#1f77b4","#ff7f0e","#2ca02c","#d62728","#9467bd"]}, "legend": {"title": null, "orient": "top-right", "labelExpr": "'sₘᵢₙ = ' + datum.label"}},
     "order": {"field": "t", "type": "quantitative"}
    }
   }
  ]
 },
 {
  "title": {"text": "(b) Artificial bulk viscosity", "orient": "bottom", "anchor": "middle", "font": "Liberation Sans", "fontSize": 28, "fontWeight": "normal", "color": "black", "offset": 32, "dx": 16},
  "resolve": {"legend": {"color": "independent"}},
  "vconcat": [
   {
    "title": {"text": "1e−5", "anchor": "start", "frame": "group", "font": "DejaVu Sans", "fontSize": 12, "fontWeight": "normal", "color": "black", "offset": 3},
    "width": 468, "height": 348,
    "data": {"name": "bulk"},
    "mark": {"type": "line", "strokeWidth": 1.8, "clip": true},
    "encoding": {
     "x": {"field": "t", "type": "quantitative", "scale": {"domain": [-0.4035, 8.4735], "nice": false, "zero": false}, "axis": {"values": [0,1,2,3,4,5,6,7,8], "format": "d", "title": "Time [s]", "labelPadding": 3, "titlePadding": 6}},
     "y": {"field": "v", "type": "quantitative", "scale": {"domain": [-0.0525, 1.1025], "nice": false, "zero": false}, "axis": {"values": [0,0.2,0.4,0.6,0.8,1.0], "format": ".1f", "title": "Artificial Bulk Viscosity", "labelPadding": 4, "titlePadding": 6}},
     "color": {"field": "smin", "type": "nominal", "scale": {"domain": ["0.5","1.0","1.2","1.5","1.8"], "range": ["#1f77b4","#ff7f0e","#2ca02c","#d62728","#9467bd"]}, "legend": {"title": null, "orient": "top-right", "labelExpr": "'sₘᵢₙ = ' + datum.label"}},
     "order": {"field": "t", "type": "quantitative"}
    }
   }
  ]
 }
]
}
